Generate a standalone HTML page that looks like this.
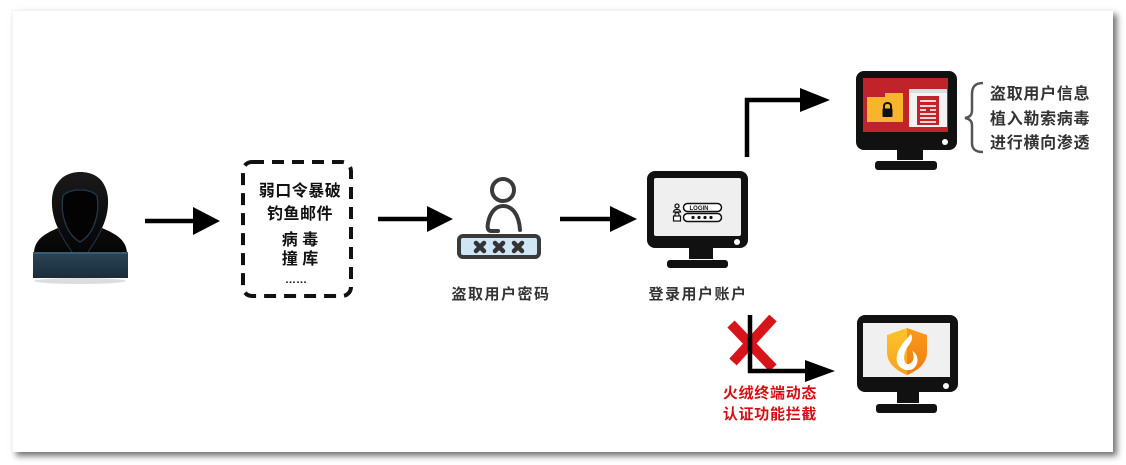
<!DOCTYPE html>
<html>
<head>
<meta charset="utf-8">
<style>
html,body{margin:0;padding:0;background:#fff;}
body{width:1126px;height:465px;overflow:hidden;position:relative;}
.card{position:absolute;left:12px;top:10px;width:1101px;height:442px;background:#fff;border-top:1px solid #f3f3f3;border-left:1px solid #f3f3f3;box-sizing:border-box;box-shadow:4px 4px 6px rgba(0,0,0,0.55);}
svg{position:absolute;left:0;top:0;}
text{font-family:"Liberation Sans","Noto Sans CJK SC",sans-serif;font-weight:bold;}
</style>
</head>
<body>
<div class="card"></div>
<svg width="1126" height="465" viewBox="0 0 1126 465" xmlns="http://www.w3.org/2000/svg">
<defs>
<linearGradient id="hood" x1="0" y1="0" x2="0" y2="1">
<stop offset="0" stop-color="#1a1a1a"/>
<stop offset="1" stop-color="#050505"/>
</linearGradient>
<linearGradient id="lap" x1="0" y1="0" x2="0" y2="1">
<stop offset="0" stop-color="#2c4558"/>
<stop offset="1" stop-color="#1a2c3a"/>
</linearGradient>
<linearGradient id="shieldL" x1="0" y1="0" x2="0" y2="1">
<stop offset="0" stop-color="#fdc52c"/>
<stop offset="1" stop-color="#f6a21a"/>
</linearGradient>
<linearGradient id="shieldR" x1="0" y1="0" x2="0" y2="1">
<stop offset="0" stop-color="#f99a1c"/>
<stop offset="1" stop-color="#f07d10"/>
</linearGradient>
</defs>

<!-- Hacker -->
<ellipse cx="80" cy="281" rx="46" ry="3" fill="#ddd"/>
<path d="M34,254 C34,240 44,234 58,228 C52,216 50,200 54,189 C60,176 70,172 80,172 C92,172 102,177 106,189 C110,200 108,216 102,228 C116,234 127,240 127,254 Z" fill="url(#hood)"/>
<path d="M63,196 C60,214 66,234 80,242 C94,234 100,214 97,196 C92,188 68,188 63,196 Z" fill="#030303" stroke="#22384a" stroke-width="1.3"/>
<path d="M58,228 C62,238 68,246 72,252 M102,228 C98,238 92,246 88,252" stroke="#1f3040" stroke-width="1.2" fill="none"/>
<rect x="33" y="252" width="95" height="26" fill="url(#lap)"/>
<rect x="33" y="252" width="95" height="2" fill="#3b5a70"/>

<!-- Arrow 1 -->
<line x1="145" y1="221" x2="195" y2="221" stroke="#000" stroke-width="4.5"/>
<polygon points="193,207 220,221 193,235" fill="#000"/>

<!-- Dashed box -->
<rect x="243" y="162" width="108" height="134" rx="9" ry="9" fill="none" stroke="#111" stroke-width="4" stroke-dasharray="12,8"/>
<text x="300" y="196" font-size="16" text-anchor="middle" fill="#111" letter-spacing="0.5">弱口令暴破</text>
<text x="300" y="219" font-size="16" text-anchor="middle" fill="#111" letter-spacing="0.5">钓鱼邮件</text>
<text x="300" y="245" font-size="16" text-anchor="middle" fill="#111">病 毒</text>
<text x="300" y="264" font-size="16" text-anchor="middle" fill="#111">撞 库</text>
<text x="296" y="283" font-size="11" text-anchor="middle" fill="#111">……</text>

<!-- Arrow 2 -->
<line x1="378" y1="219" x2="429" y2="219" stroke="#000" stroke-width="4.5"/>
<polygon points="427,206 453,219 427,232" fill="#000"/>

<!-- Password icon -->
<circle cx="503" cy="190" r="11" fill="none" stroke="#3a3a3a" stroke-width="4"/>
<path d="M498,231 L491,231 C488,231 487,228 488,223 C490,212 496,206 503,206 C512,206 519,214 520,230" fill="none" stroke="#3a3a3a" stroke-width="4" stroke-linecap="round"/>
<rect x="459" y="236" width="80" height="21" rx="4" fill="#cfe6f6" stroke="#3a3a3a" stroke-width="4"/>
<g stroke="#333" stroke-width="4.5" stroke-linecap="round">
<path d="M476,243 L484,251 M484,243 L476,251"/>
<path d="M495,243 L503,251 M503,243 L495,251"/>
<path d="M514,243 L522,251 M522,243 L514,251"/>
</g>
<text x="501" y="299" font-size="15" text-anchor="middle" fill="#333" letter-spacing="1.5">盗取用户密码</text>

<!-- Arrow 3 -->
<line x1="560" y1="219" x2="612" y2="219" stroke="#000" stroke-width="4.5"/>
<polygon points="610,206 637,219 610,232" fill="#000"/>

<!-- Login monitor -->
<rect x="647" y="171" width="101" height="77" rx="8" fill="#111"/>
<rect x="654" y="178" width="87" height="58" rx="2" fill="#efefef"/>
<circle cx="737" cy="242" r="3" fill="#fff"/>
<rect x="689" y="247" width="24" height="12" fill="#111"/>
<rect x="667" y="260" width="61" height="8" rx="3" fill="#111"/>
<circle cx="677" cy="206" r="2" fill="none" stroke="#111" stroke-width="1.3"/>
<path d="M673.5,212 C674,208.5 680,208.5 680.5,212 Z" fill="none" stroke="#111" stroke-width="1.3"/>
<rect x="683.5" y="203.5" width="38" height="8" rx="4" fill="#fff" stroke="#111" stroke-width="1.5"/>
<text x="699" y="210" font-size="6" text-anchor="middle" fill="#111">LOGIN</text>
<path d="M675,216 L675,214.5 C675,212 679,212 679,214.5 L679,216" fill="none" stroke="#111" stroke-width="1.2"/>
<rect x="673.5" y="216" width="7" height="5" fill="#fff" stroke="#111" stroke-width="1.2"/>
<rect x="683.5" y="213.5" width="38" height="8" rx="4" fill="#fff" stroke="#111" stroke-width="1.5"/>
<g fill="#111"><circle cx="693" cy="217.5" r="1.6"/><circle cx="699" cy="217.5" r="1.6"/><circle cx="705" cy="217.5" r="1.6"/><circle cx="711" cy="217.5" r="1.6"/></g>
<text x="698" y="299" font-size="15" text-anchor="middle" fill="#333" letter-spacing="1.5">登录用户账户</text>

<!-- Top branch arrow -->
<line x1="747" y1="157" x2="747" y2="98" stroke="#000" stroke-width="4.5"/>
<line x1="745" y1="100" x2="802" y2="100" stroke="#000" stroke-width="4.5"/>
<polygon points="800,88 830,100 800,112" fill="#000"/>

<!-- Ransom monitor -->
<rect x="856" y="71" width="101" height="79" rx="8" fill="#111"/>
<rect x="863" y="78" width="85" height="54" fill="#c1232b"/>
<circle cx="945" cy="142" r="3" fill="#fff"/>
<rect x="897" y="149" width="26" height="11" fill="#111"/>
<rect x="875" y="161" width="62" height="9" rx="3" fill="#111"/>
<rect x="867" y="97" width="36" height="25" fill="#f7b42c"/>
<rect x="885" y="93" width="18" height="6" fill="#f7b42c"/>
<path d="M884,109 L884,106 C884,102 891,102 891,106 L891,109" fill="none" stroke="#111" stroke-width="2"/>
<rect x="882.5" y="108.5" width="10" height="8.5" rx="1" fill="#111"/>
<rect x="909" y="89" width="38" height="38" fill="#f3f3f3"/>
<rect x="909" y="89" width="38" height="4" fill="#ddd"/>
<rect x="917" y="96" width="22" height="29" fill="#c1232b"/>
<g stroke="#fff" stroke-width="1.6">
<line x1="920" y1="101" x2="936" y2="101"/>
<line x1="920" y1="106" x2="936" y2="106"/>
<line x1="920" y1="110" x2="926" y2="110"/>
<line x1="930" y1="110" x2="936" y2="110"/>
<line x1="920" y1="114" x2="936" y2="114"/>
<line x1="920" y1="118" x2="936" y2="118"/>
<line x1="920" y1="122" x2="936" y2="122"/>
</g>

<!-- Brace -->
<path d="M983,83 C975,83 972,87 972,94 L972,110 C972,115 970,117 965,118 C970,119 972,121 972,126 L972,143 C972,149 975,152 983,152" fill="none" stroke="#555" stroke-width="2.5"/>
<text x="990" y="99" font-size="16" fill="#333" letter-spacing="0.7">盗取用户信息</text>
<text x="990" y="124" font-size="16" fill="#333" letter-spacing="0.7">植入勒索病毒</text>
<text x="990" y="148" font-size="16" fill="#333" letter-spacing="0.7">进行横向渗透</text>

<!-- Bottom branch -->
<path d="M731,324 L773,368" stroke="#d7141a" stroke-width="10" stroke-linecap="butt"/>
<path d="M773,318 L733,362" stroke="#d7141a" stroke-width="10" stroke-linecap="butt"/>
<line x1="750" y1="315" x2="750" y2="373" stroke="#000" stroke-width="4.5"/>
<line x1="748" y1="371" x2="807" y2="371" stroke="#000" stroke-width="4.5"/>
<polygon points="805,360 835,371 805,382" fill="#000"/>
<text x="770" y="398" font-size="15" text-anchor="middle" fill="#d40f14" letter-spacing="0.7">火绒终端动态</text>
<text x="770" y="419" font-size="15" text-anchor="middle" fill="#d40f14" letter-spacing="0.7">认证功能拦截</text>

<!-- Protected monitor -->
<rect x="857" y="315" width="101" height="77" rx="8" fill="#111"/>
<rect x="863" y="323" width="87" height="54" fill="#f0f0f0"/>
<circle cx="946" cy="386" r="3" fill="#fff"/>
<rect x="897" y="391" width="22" height="12" fill="#111"/>
<rect x="876" y="404" width="61" height="9" rx="3" fill="#111"/>
<path d="M907,328 L887,335 L887,352 C887,364 897,371 907,375 Z" fill="url(#shieldL)"/>
<path d="M907,328 L927,335 L927,352 C927,364 917,371 907,375 Z" fill="url(#shieldR)"/>
<path d="M911,334 C903,343 895,351 897,362 C899,370 910,373 915,367 C920,361 917,353 912,351 C916,358 912,365 907,364 C902,361 904,351 909,345 C912,341 913,338 911,334 Z" fill="#fff"/>
</svg>
</body>
</html>
